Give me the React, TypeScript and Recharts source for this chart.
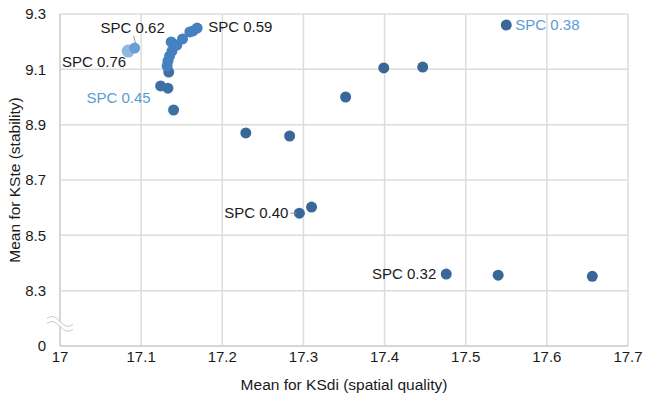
import React from 'react';
import {
  ScatterChart,
  Scatter,
  XAxis,
  YAxis,
  CartesianGrid,
  ReferenceDot,
} from 'recharts';

// values (y = 8.1 stands for the broken "0" tick)
const darkX = [17.55, 17.399, 17.447, 17.352, 17.229, 17.283, 17.295, 17.31, 17.476, 17.54, 17.656];
const darkY = [9.26, 9.105, 9.108, 9.0, 8.87, 8.859, 8.58, 8.602, 8.36, 8.356, 8.352];

const lowX = [17.124, 17.133, 17.14, 17.134];
const lowY = [9.04, 9.032, 8.953, 9.09];

const clusterX = [17.137, 17.169, 17.164, 17.16, 17.151, 17.144, 17.138, 17.135, 17.133, 17.132];
const clusterY = [9.199, 9.249, 9.239, 9.235, 9.21, 9.188, 9.166, 9.148, 9.13, 9.112];

const spc62 = { x: 17.092, y: 9.177 };
const spc76 = { x: 17.084, y: 9.166 };

const xTicks = [17, 17.1, 17.2, 17.3, 17.4, 17.5, 17.6, 17.7];
const yTicks = [8.1, 8.3, 8.5, 8.7, 8.9, 9.1, 9.3];

const toPoints = (xs: number[], ys: number[]) => xs.map((x, i) => ({ x, y: ys[i] }));

const darkData = toPoints(darkX, darkY);
const lowData = toPoints(lowX, lowY);
const clusterData = toPoints(clusterX, clusterY);

const BLACK = '#1a1a1a';
const LIGHT = '#5b9bd5';

// annotation text attached to points
const notes = [
  { x: 17.55, y: 9.26, text: 'SPC 0.38', color: LIGHT, dx: 9, dy: 0, anchor: 'start' },
  { x: 17.476, y: 8.36, text: 'SPC 0.32', color: BLACK, dx: -10, dy: 0, anchor: 'end' },
  { x: 17.295, y: 8.58, text: 'SPC 0.40', color: BLACK, dx: -11, dy: 0, anchor: 'end', lead: [-9, 0, -3, 0] },
  { x: 17.169, y: 9.249, text: 'SPC 0.59', color: BLACK, dx: 11, dy: -1, anchor: 'start' },
  { x: 17.092, y: 9.177, text: 'SPC 0.62', color: BLACK, dx: -2, dy: -20, anchor: 'middle', lead: [-1, -12, 1, -4] },
  { x: 17.084, y: 9.166, text: 'SPC 0.76', color: BLACK, dx: -2, dy: 11, anchor: 'end' },
  { x: 17.124, y: 9.04, text: 'SPC 0.45', color: LIGHT, dx: -10, dy: 12, anchor: 'end' },
];

const dot = (fill: string, r: number) => (props: any) => (
  <circle cx={props.cx} cy={props.cy} r={r} fill={fill} />
);

// slanted double wave on the y axis
const AxisBreak = (props: any) => {
  const { cx, cy } = props;
  const wave = (oy: number) => `M${cx - 13},${cy - 6 + oy} q6,-5 13,3 t13,3`;
  return (
    <g>
      <path d={`${wave(0)} l0,5 q-7,-1 -13,-3 q-7,-8 -13,-3 z`} fill="#fff" />
      <path d={wave(0)} fill="none" stroke="#c8c8c8" strokeWidth={1} />
      <path d={wave(5)} fill="none" stroke="#c8c8c8" strokeWidth={1} />
    </g>
  );
};

const App: React.FC = () => {
  return (
    <div style={{ position: 'absolute', left: 0, top: 0, fontFamily: '"Liberation Sans", Arial, sans-serif' }}>
      <ScatterChart width={647} height={399} margin={{ top: 14, right: 19, bottom: 0, left: 0 }}>
        <CartesianGrid stroke="#dcdcdc" strokeWidth={1.5} />
        <XAxis
          type="number"
          dataKey="x"
          domain={[17, 17.7]}
          ticks={xTicks}
          height={53}
          tickLine={false}
          tickSize={0}
          tickMargin={5}
          axisLine={{ stroke: '#d0d0d0', strokeWidth: 1.5 }}
          tick={{ fill: BLACK, fontSize: 15 }}
          label={{ value: 'Mean for KSdi (spatial quality)', position: 'insideBottom', offset: 9, fill: BLACK, fontSize: 15.5 }}
        />
        <YAxis
          type="number"
          dataKey="y"
          domain={[8.1, 9.3]}
          ticks={yTicks}
          width={60}
          tickLine={false}
          tickSize={0}
          tickMargin={14}
          axisLine={{ stroke: '#d0d0d0', strokeWidth: 1.5 }}
          tick={{ fill: BLACK, fontSize: 15 }}
          tickFormatter={(v: number) => (v < 8.2 ? '0' : v.toFixed(1))}
          label={{
            value: 'Mean for KSte (stability)',
            angle: -90,
            position: 'insideLeft',
            offset: 14,
            fill: BLACK,
            fontSize: 15.5,
            style: { textAnchor: 'middle' },
          }}
        />
        <Scatter data={darkData} fill="#386898" shape={dot('#386898', 5.5)} isAnimationActive={false} />
        <Scatter data={lowData} fill="#3d71a6" shape={dot('#3d71a6', 5.5)} isAnimationActive={false} />
        <Scatter data={clusterData} fill="#4581bf" shape={dot('#4581bf', 5.5)} isAnimationActive={false} />
        <Scatter data={[spc76]} fill="#91b8e1" shape={dot('#91b8e1', 6.5)} isAnimationActive={false} />
        <Scatter data={[spc62]} fill="#6a9fd6" shape={dot('#6a9fd6', 5.5)} isAnimationActive={false} />
        <ReferenceDot x={17} y={8.178} r={0} ifOverflow="visible" shape={AxisBreak} />
        {notes.map((n, i) => (
          <ReferenceDot
            key={i}
            x={n.x}
            y={n.y}
            r={0}
            ifOverflow="visible"
            shape={(p: any) => (
              <g>
                {n.lead && (
                  <line
                    x1={p.cx + n.lead[0]}
                    y1={p.cy + n.lead[1]}
                    x2={p.cx + n.lead[2]}
                    y2={p.cy + n.lead[3]}
                    stroke="#999"
                    strokeWidth={1}
                  />
                )}
                <text
                  x={p.cx + n.dx}
                  y={p.cy + n.dy}
                  dy="0.35em"
                  textAnchor={n.anchor as any}
                  fill={n.color}
                  fontSize={15}
                >
                  {n.text}
                </text>
              </g>
            )}
          />
        ))}
      </ScatterChart>
    </div>
  );
};

export default App;
